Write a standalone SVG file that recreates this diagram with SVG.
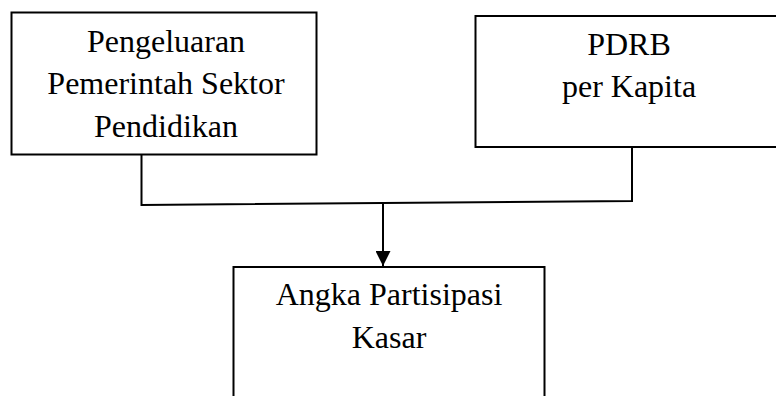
<svg xmlns="http://www.w3.org/2000/svg" width="776" height="396" viewBox="0 0 776 396">
  <style>
    .box { fill: #ffffff; stroke: #000000; stroke-width: 2; }
    .lbl { font-family: "Liberation Serif", "Times New Roman", serif; font-size: 32px; fill: #000000; text-anchor: middle; }
    .conn { fill: none; stroke: #000000; stroke-width: 2; }
  </style>
  <defs>
    <marker id="arrow" viewBox="0 0 15 15" refX="15" refY="7.5" markerWidth="15" markerHeight="15" markerUnits="userSpaceOnUse" orient="auto">
      <path d="M0,0 L15,7.5 L0,15 Z" fill="#000000"/>
    </marker>
  </defs>
  <rect width="776" height="396" fill="#ffffff"/>
  <g id="connectors">
    <path class="conn" d="M141.5,154 V205 L632,201 V147"/>
    <path class="conn" d="M383,203.5 V266" marker-end="url(#arrow)"/>
  </g>
  <g id="node-pengeluaran">
    <rect class="box" x="11.5" y="12.5" width="305" height="142"/>
    <text class="lbl" x="166" y="52">Pengeluaran</text>
    <text class="lbl" x="166" y="94">Pemerintah Sektor</text>
    <text class="lbl" x="166" y="137">Pendidikan</text>
  </g>
  <g id="node-pdrb">
    <rect class="box" x="475.5" y="16" width="310" height="131"/>
    <text class="lbl" x="629" y="55">PDRB</text>
    <text class="lbl" x="629" y="97">per Kapita</text>
  </g>
  <g id="node-apk">
    <rect class="box" x="233.5" y="267" width="311" height="140"/>
    <text class="lbl" x="389" y="305">Angka Partisipasi</text>
    <text class="lbl" x="389" y="348">Kasar</text>
  </g>
</svg>
